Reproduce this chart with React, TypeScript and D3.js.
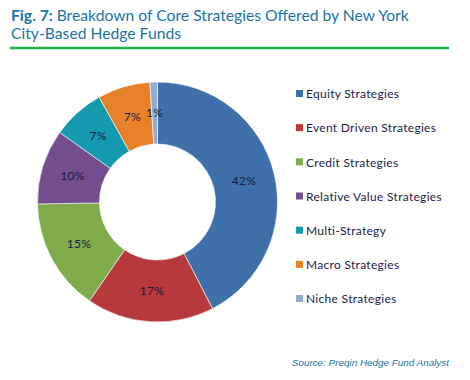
import React from "react";
import * as d3 from "d3";

const categories = [
  "Equity Strategies",
  "Event Driven Strategies",
  "Credit Strategies",
  "Relative Value Strategies",
  "Multi-Strategy",
  "Macro Strategies",
  "Niche Strategies",
];
const values = [42, 17, 15, 10, 7, 7, 1];
const colors = ["#3e70a9", "#b8393b", "#80ab4b", "#744e8f", "#149aaf", "#e8822a", "#93aad3"];

export default function App() {
  const W = 470, H = 380;
  const cx = 157.5, cy = 202, rOuter = 120, rInner = 58;
  const pie = d3.pie<number>().sort(null).value((d) => d)(values);
  const arc = d3.arc<d3.PieArcDatum<number>>().innerRadius(rInner).outerRadius(rOuter);
  const labelArc = d3.arc<d3.PieArcDatum<number>>().innerRadius((rInner + rOuter) / 2).outerRadius((rInner + rOuter) / 2);
  const legendY = d3.scaleLinear().domain([0, categories.length - 1]).range([94, 299]);
  const blue = "#1a74a6";
  const font = "Lato, 'DejaVu Sans', sans-serif";
  return (
    <svg width={W} height={H} style={{ position: "absolute", left: 0, top: 0, background: "#fff" }}>
      <text x={11} y={21} fontFamily={font} fontSize={15.7} fill={blue}>
        <tspan fontWeight="bold">Fig. 7: </tspan>Breakdown of Core Strategies Offered by New York
      </text>
      <text x={11} y={39} fontFamily={font} fontSize={15.7} fill={blue}>
        City-Based Hedge Funds
      </text>
      <line x1={10} x2={449} y1={48} y2={48} stroke="#22b24c" strokeWidth={2.5} />
      <g transform={`translate(${cx},${cy})`}>
        {pie.map((p, i) => (
          <path key={i} d={arc(p) || ""} fill={colors[i]} stroke="#fff" strokeWidth={0.6} />
        ))}
        {pie.map((p, i) => {
          const [x, y] = labelArc.centroid(p);
          return (
            <text key={i} x={x} y={y} dy="0.35em" textAnchor="middle" fontFamily={font} fontSize={12} letterSpacing={0.3} fill="#1a1a3a">
              {Math.round(values[i])}%
            </text>
          );
        })}
      </g>
      {categories.map((c, i) => (
        <g key={c} transform={`translate(296,${legendY(i)})`}>
          <rect x={0} y={-4} width={7} height={7} fill={colors[i]} />
          <text x={10} y={0} dy="0.35em" fontFamily={font} fontSize={12} letterSpacing={0.3} fill="#1c1c4c">
            {c}
          </text>
        </g>
      ))}
      <text x={449} y={366} textAnchor="end" fontFamily="'Liberation Sans', Arial, sans-serif" fontStyle="italic" fontSize={9.9} fill={blue}>
        Source: Preqin Hedge Fund Analyst
      </text>
    </svg>
  );
}
